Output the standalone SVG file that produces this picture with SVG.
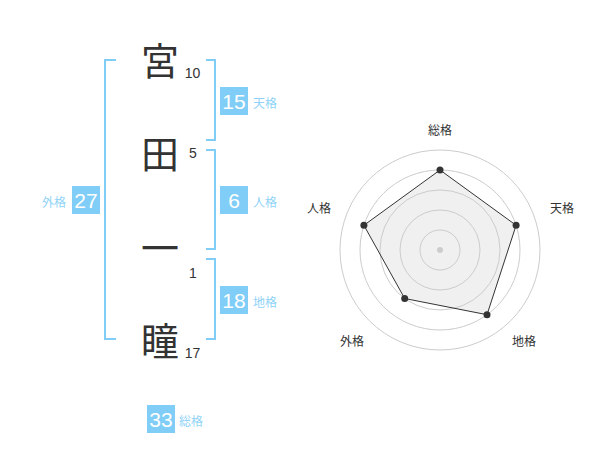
<svg xmlns="http://www.w3.org/2000/svg" width="600" height="470" viewBox="0 0 600 470">
<style>
.kanji{font-family:"Noto Sans CJK JP","Noto Sans CJK SC",sans-serif;font-size:38px;font-weight:400;fill:#333;text-anchor:middle}
.num{font-family:"Liberation Sans",Arial,sans-serif;font-size:14px;fill:#333;text-anchor:middle}
.br{fill:none;stroke:#80cdf7;stroke-width:2}
.box{fill:#80cdf7}
.bn{font-family:"Liberation Sans",Arial,sans-serif;font-size:21px;fill:#fff;text-anchor:middle}
.lb{font-family:"Noto Sans CJK JP","Noto Sans CJK SC",sans-serif;font-size:12px;fill:#8fd3f8}
.ring{fill:none;stroke:#ccc;stroke-width:1}
.ax{font-family:"Noto Sans CJK JP","Noto Sans CJK SC",sans-serif;font-size:12px;fill:#333;text-anchor:middle}
.pt{fill:#333}
</style>
<rect width="600" height="470" fill="#fff"/>
<g id="name">
<text class="kanji" x="160" y="75">宮</text>
<text class="kanji" x="160" y="168">田</text>
<text class="kanji" x="160" y="262">一</text>
<text class="kanji" x="160" y="355">瞳</text>
<text class="num" x="192.5" y="78">10</text>
<text class="num" x="193" y="158">5</text>
<text class="num" x="193" y="278">1</text>
<text class="num" x="192.5" y="358">17</text>
</g>
<g id="connectors">
<path class="br" d="M116,60H105V339H116"/>
<path class="br" d="M206,60H215V140H206"/>
<path class="br" d="M206,150H215V249H206"/>
<path class="br" d="M206,259H215V339H206"/>
</g>
<g id="tenkaku">
<rect class="box" x="220" y="87" width="28" height="28"/>
<text class="bn" x="234" y="108.5">15</text>
<text class="lb" x="253" y="108">天格</text>
</g>
<g id="jinkaku">
<rect class="box" x="220" y="186" width="28" height="28"/>
<text class="bn" x="234" y="207.5">6</text>
<text class="lb" x="253" y="207">人格</text>
</g>
<g id="chikaku">
<rect class="box" x="220" y="286" width="28" height="28"/>
<text class="bn" x="234" y="307.5">18</text>
<text class="lb" x="253" y="307">地格</text>
</g>
<g id="gaikaku">
<rect class="box" x="72" y="186" width="28" height="28"/>
<text class="bn" x="86" y="207.5">27</text>
<text class="lb" x="66" y="207" text-anchor="end">外格</text>
</g>
<g id="soukaku">
<rect class="box" x="147" y="405" width="28" height="28"/>
<text class="bn" x="161" y="426.5">33</text>
<text class="lb" x="179" y="426">総格</text>
</g>
<g id="radar">
<polygon points="440,170 516.1,225.3 487,314.7 404.7,298.5 363.9,225.3" fill="#000" fill-opacity="0.06"/>
<circle class="ring" cx="440" cy="250" r="20"/>
<circle class="ring" cx="440" cy="250" r="40"/>
<circle class="ring" cx="440" cy="250" r="60"/>
<circle class="ring" cx="440" cy="250" r="80"/>
<circle class="ring" cx="440" cy="250" r="100"/>
<circle cx="440" cy="250" r="3" fill="#ccc"/>
<polygon points="440,170 516.1,225.3 487,314.7 404.7,298.5 363.9,225.3" fill="none" stroke="#333" stroke-width="1"/>
<circle class="pt" cx="440" cy="170" r="3.5"/>
<circle class="pt" cx="516.1" cy="225.3" r="3.5"/>
<circle class="pt" cx="487" cy="314.7" r="3.5"/>
<circle class="pt" cx="404.7" cy="298.5" r="3.5"/>
<circle class="pt" cx="363.9" cy="225.3" r="3.5"/>
<text class="ax" x="440" y="135">総格</text>
<text class="ax" x="562" y="213">天格</text>
<text class="ax" x="524" y="346">地格</text>
<text class="ax" x="352" y="346">外格</text>
<text class="ax" x="319" y="213">人格</text>
</g>
</svg>
